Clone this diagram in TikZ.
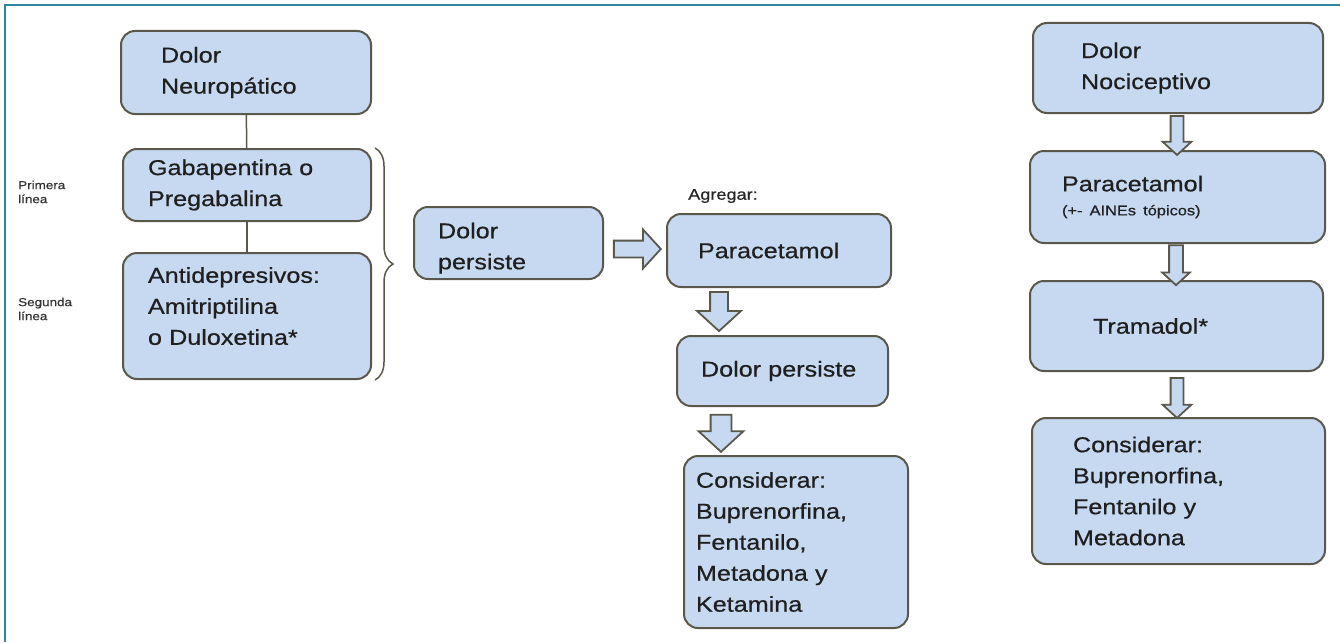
\documentclass[tikz,border=0pt]{standalone}
\usepackage{fontspec}
\setmainfont{Liberation Sans}[FakeStretch=1.17,FakeBold=0.6]
\usetikzlibrary{positioning,shapes.arrows,decorations.pathreplacing}
\definecolor{fondo}{RGB}{198,217,241}
\definecolor{borde}{RGB}{90,88,75}
\definecolor{marco}{RGB}{45,135,160}

\begin{document}
\begin{tikzpicture}[x=1pt,y=-1pt,
	caja/.style={draw=borde,fill=fondo,line width=2,rounded corners=14,anchor=north west,align=left,inner ysep=0,text=black!88,font=\fontsize{21.5}{31}\selectfont},
	flecha/.style={single arrow,draw=borde,fill=fondo,line width=1.8,inner xsep=0,single arrow head indent=0,single arrow tip angle=95},
	nota/.style={font=\fontsize{11.5}{14}\selectfont,text=black!80,align=left,inner sep=0}]
		\useasboundingbox[fill=white] (0,0) rectangle (1340,642);
		\draw[marco,line width=2] (5,642) -- (5,5) -- (1340,5);

		\node[caja,minimum height=83,inner xsep=40,text width=170]		(neuro)		at (120,30)		{Dolor\\Neuropático};
		\node[caja,minimum height=72,inner xsep=25,text width=198]		(gaba)		at (122,148)	{Gabapentina o\\Pregabalina};
		\node[caja,minimum height=126,inner xsep=25,text width=198,text depth=82]	(antidep)	at (122,252)	{Antidepresivos:\\Amitriptilina\\o Duloxetina*};
		\node[caja,minimum height=72,inner xsep=24,text width=141,text height=26]	(persiste1)	at (413,206)	{Dolor\\persiste};
		\node[caja,minimum height=73,inner xsep=31,text width=162]		(parac1)	at (666,213)	{Paracetamol};
		\node[caja,minimum height=70,inner xsep=24,text width=163]		(persiste2)	at (676,335)	{Dolor persiste};
		\node[caja,minimum height=172,inner xsep=12,text width=200]		(consid1)	at (683,455)	{Considerar:\\Buprenorfina,\\Fentanilo,\\Metadona y\\Ketamina};
		\node[caja,minimum height=90,inner xsep=48,text width=194]		(noci)		at (1032,22)	{Dolor\\Nociceptivo};
		\node[caja,minimum height=92,inner xsep=32,text width=231]		(parac2)	at (1029,150)	{Paracetamol\\[-7pt]{\fontsize{14}{16}\selectfont(+- AINEs tópicos)}};
		\node[caja,minimum height=90,inner xsep=63,text width=167]		(trama)		at (1029,280)	{Tramadol*};
		\node[caja,minimum height=146,inner xsep=41,text width=211]		(consid2)	at (1031,417)	{Considerar:\\Buprenorfina,\\Fentanilo y\\Metadona};

		\node[nota,anchor=west]		(primera)	at (18,192)		{Primera\\línea};
		\node[nota,anchor=west]		(segunda)	at (18,309)		{Segunda\\línea};
		\node[anchor=west,inner sep=0,text=black!85,font=\fontsize{15.5}{18}\selectfont]	(agregar)	at (688,196)	{Agregar:};

		\node[flecha,minimum height=47,minimum width=37,inner ysep=7.5,single arrow head extend=11]			(fa)	at (633.5,249)	{};
		\node[flecha,rotate=-90,minimum height=39,minimum width=42,inner ysep=8,single arrow head extend=13]		(fb)	at (719,307.5)	{};
		\node[flecha,rotate=-90,minimum height=37,minimum width=43,inner ysep=9.5,single arrow head extend=12]	(fc)	at (721,428.5)	{};
		\node[flecha,rotate=-90,minimum height=39,minimum width=27,inner ysep=5.5,single arrow head extend=8]	(fd)	at (1177,132.5)	{};
		\node[flecha,rotate=-90,minimum height=40,minimum width=26,inner ysep=6,single arrow head extend=7]		(fe)	at (1176,262)	{};
		\node[flecha,rotate=-90,minimum height=40,minimum width=27,inner ysep=5.5,single arrow head extend=8]	(ff)	at (1177,395)	{};

		\draw[borde,line width=1.5] (neuro) -- (gaba);
		\draw[borde,line width=1.5] (gaba) -- (antidep);
		\draw[borde,line width=1.5,decorate,decoration={brace,amplitude=18}] ([xshift=3pt]gaba.north east) -- ([xshift=3pt]antidep.south east);
	\end{tikzpicture}
\end{document}
